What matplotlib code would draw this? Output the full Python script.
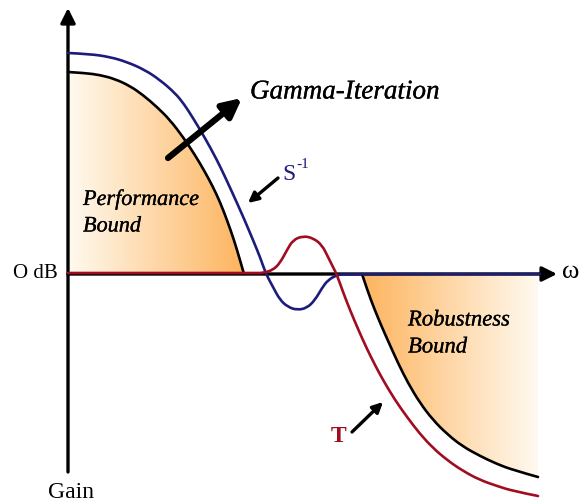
import numpy as np
import matplotlib
matplotlib.use("Agg")
import matplotlib.pyplot as plt
import matplotlib.patheffects as pe
from matplotlib.colors import LinearSegmentedColormap
from matplotlib.patches import PathPatch
from matplotlib.path import Path

# loop-shaping sketch: frequency (arbitrary units) vs gain (dB, arbitrary)
perf_w = [0, 1.7, 3.2, 4.7, 6.2, 7.5, 8.9, 10.2, 11.5, 12.7, 13.7, 14.5, 15.2, 15.9, 16.6, 17.2, 17.6]
perf_g = [20.2, 20.1, 19.9, 19.5, 18.8, 17.9, 16.7, 15.4, 13.7, 11.9, 10.2, 8.7, 7.2, 5.4, 3.4, 1.4, 0]

rob_w = [29.4, 30.0, 30.6, 31.3, 32.1, 33.0, 34.0, 35.2, 36.5, 37.9, 39.4, 41.2, 42.9, 44.5, 47.0]
rob_g = [0, -1.8, -3.4, -5.1, -6.9, -8.9, -10.9, -12.9, -14.6, -16.0, -17.2, -18.2, -19.0, -19.6, -20.3]

sinv_w = [0, 2.2, 4.2, 5.9, 7.7, 9.2, 10.7, 11.6, 12.5, 13.7, 14.9, 15.9, 16.9, 17.7, 18.5, 19.2,
          19.8, 20.5, 21.2, 22.0, 22.9, 23.9, 24.7, 25.4, 26.0, 26.9, 27.7, 47.2]
sinv_g = [22.1, 22.0, 21.7, 21.2, 20.4, 19.4, 18.1, 17.0, 15.6, 13.6, 11.4, 9.3, 7.1, 5.3, 3.4, 1.7,
          0, -1.3, -2.6, -3.3, -3.6, -3.4, -2.6, -1.4, -0.6, -0.1, 0, 0]

t_w = [0, 18.7, 19.5, 20.5, 21.2, 21.9, 22.5, 23.5, 24.5, 25.4, 26.0, 26.5, 26.9, 27.5, 28.2, 29.0,
       29.9, 30.7, 31.5, 32.7, 33.9, 35.2, 36.5, 37.9, 39.5, 41.2, 42.9, 44.5, 47.0]
t_g = [0.1, 0.1, 0.1, 0.4, 1.1, 2.4, 3.4, 3.8, 3.6, 2.9, 1.7, 0.7, -0.1, -1.8, -3.6, -5.5,
       -7.5, -9.1, -10.6, -12.6, -14.3, -16.0, -17.4, -18.6, -19.7, -20.6, -21.2, -21.7, -22.2]

NAVY = '#1c1c7a'
RED = '#a00d20'
ORANGE = '#fdb45e'
PALE = '#fffaf0'
SERIF = ['Liberation Serif', 'DejaVu Serif']

fig = plt.figure(figsize=(5.88, 5.04), dpi=100)
ax = fig.add_axes([0, 0, 1, 1])
ax.axis('off')


def smooth_path(w, g, close_to_axis=False):
    # read points are used as quadratic bezier control points, so the library draws a smooth curve
    pts = list(zip(w, g))
    verts = [pts[0]]
    codes = [Path.MOVETO]
    for i in range(1, len(pts) - 1):
        mid = ((pts[i][0] + pts[i + 1][0]) / 2, (pts[i][1] + pts[i + 1][1]) / 2)
        if i == len(pts) - 2:
            mid = pts[-1]
        verts += [pts[i], mid]
        codes += [Path.CURVE3, Path.CURVE3]
    if close_to_axis:
        verts += [(w[-1], 0), (w[0], 0), (w[0], 0)]
        codes += [Path.LINETO, Path.LINETO, Path.CLOSEPOLY]
    return Path(verts, codes)


def gradient_fill(w, g, c_left, c_right):
    patch = PathPatch(smooth_path(w, g, close_to_axis=True), facecolor='none', edgecolor='none')
    ax.add_patch(patch)
    cmap = LinearSegmentedColormap.from_list('grad', [c_left, c_right])
    ext = [min(w), max(w), min(min(g), 0), max(max(g), 0)]
    im = ax.imshow(np.linspace(0, 1, 256).reshape(1, -1), cmap=cmap, aspect='auto',
                   extent=ext, origin='lower', zorder=1, interpolation='bilinear')
    im.set_clip_path(patch)


def curve(w, g, color, z):
    ax.add_patch(PathPatch(smooth_path(w, g), facecolor='none', edgecolor=color,
                           lw=1.9, zorder=z, capstyle='round', joinstyle='round'))


gradient_fill(perf_w, perf_g, PALE, ORANGE)
gradient_fill(rob_w, rob_g, ORANGE, PALE)
ax.set_xlim(-6.8, 52.0)
ax.set_ylim(-23.0, 27.4)

# axes with arrow heads
ax.annotate('', xy=(0, 26.6), xytext=(0, -19.8),
            arrowprops=dict(arrowstyle='-|>', lw=2.4, color='black', mutation_scale=22,
                            shrinkA=0, shrinkB=0), zorder=3)
ax.annotate('', xy=(48.9, 0), xytext=(0, 0),
            arrowprops=dict(arrowstyle='-|>', lw=2.4, color='black', mutation_scale=22,
                            shrinkA=0, shrinkB=0), zorder=3)

curve(perf_w, perf_g, 'black', 4)
curve(rob_w, rob_g, 'black', 4)
curve(sinv_w, sinv_g, NAVY, 5)
curve(t_w, t_g, RED, 6)

# annotation arrows
ax.annotate('', xy=(17.4, 17.6), xytext=(10.0, 11.6),
            arrowprops=dict(arrowstyle='-|>', lw=4.5, color='black', mutation_scale=28,
                            shrinkA=0, shrinkB=0), zorder=7)
ax.annotate('', xy=(18.0, 7.1), xytext=(21.0, 9.6),
            arrowprops=dict(arrowstyle='-|>', lw=2.4, color='black', mutation_scale=15,
                            shrinkA=0, shrinkB=0), zorder=7)
ax.annotate('', xy=(31.5, -12.8), xytext=(28.4, -15.8),
            arrowprops=dict(arrowstyle='-|>', lw=2.4, color='black', mutation_scale=15,
                            shrinkA=0, shrinkB=0), zorder=7)

# labels (hairline stroke to match the slightly heavier original lettering)
heavy = [pe.withStroke(linewidth=0.2, foreground='black')]
ax.text(18.2, 18.2, 'Gamma-Iteration', family=SERIF, style='italic', fontsize=19.5,
        ha='left', va='center', path_effects=heavy)
ax.text(21.4, 10.0, 'S', family=SERIF, color=NAVY, fontsize=17, ha='left', va='center')
ax.text(22.8, 11.0, '-1', family=SERIF, color=NAVY, fontsize=11, ha='left', va='center')
ax.text(27.1, -16.3, 'T', family=SERIF, color=RED, fontsize=17, fontweight='bold',
        ha='center', va='center')
ax.text(1.5, 7.4, 'Performance', family=SERIF, style='italic', fontsize=16, ha='left',
        va='center', path_effects=heavy)
ax.text(1.5, 4.7, 'Bound', family=SERIF, style='italic', fontsize=16, ha='left',
        va='center', path_effects=heavy)
ax.text(34.0, -4.6, 'Robustness', family=SERIF, style='italic', fontsize=16.3, ha='left',
        va='center', path_effects=heavy)
ax.text(34.0, -7.3, 'Bound', family=SERIF, style='italic', fontsize=16.3, ha='left',
        va='center', path_effects=heavy)
ax.text(-1.0, 0.1, 'O dB', family=SERIF, fontsize=15, ha='right', va='center')
ax.text(0.3, -21.8, 'Gain', family=SERIF, fontsize=17, ha='center', va='center')
ax.text(49.4, 0.2, 'ω', family=SERIF, fontsize=19, ha='left', va='center')

fig.savefig('out.png', dpi=100)
